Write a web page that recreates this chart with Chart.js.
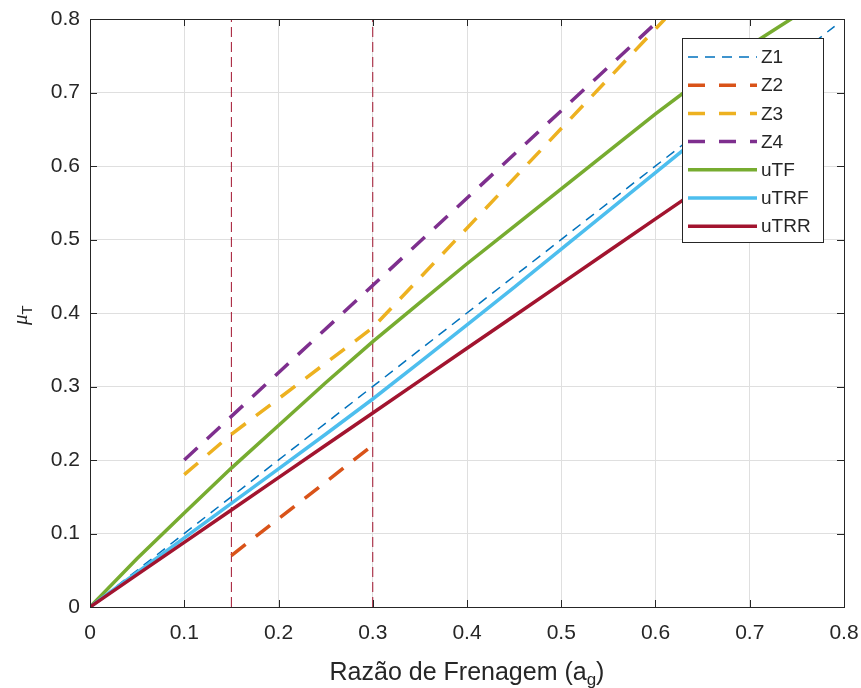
<!DOCTYPE html>
<html>
<head>
<meta charset="utf-8">
<script src="https://cdn.jsdelivr.net/npm/chart.js@4.4.0/dist/chart.umd.min.js"></script>
<style>
  body { margin: 0; background: #fff; }
  canvas { display: block; }
</style>
</head>
<body>
<canvas id="myChart" width="861" height="688"></canvas>
<script>
// values
const tickValues = [0, 0.1, 0.2, 0.3, 0.4, 0.5, 0.6, 0.7, 0.8];
const tickLabels = ["0", "0.1", "0.2", "0.3", "0.4", "0.5", "0.6", "0.7", "0.8"];

const z1X = [0, 0.79];
const z1Y = [0, 0.79];
const z2X = [0.15, 0.3];
const z2Y = [0.07, 0.22];
const z3X = [0.1, 0.15, 0.3, 0.61];
const z3Y = [0.18, 0.235, 0.38, 0.8];
const z4X = [0.1, 0.605];
const z4Y = [0.2, 0.8];

const uX = [0, 0.05, 0.1, 0.15, 0.2, 0.25, 0.3, 0.35, 0.4, 0.45, 0.5, 0.55, 0.6, 0.65, 0.7, 0.75];
const uTF = [0, 0.066, 0.128, 0.189, 0.247, 0.305, 0.361, 0.414, 0.467, 0.518, 0.569, 0.62, 0.671, 0.719, 0.764, 0.805];
const uTRF = [0, 0.047, 0.094, 0.141, 0.188, 0.235, 0.283, 0.333, 0.384, 0.435, 0.487, 0.539, 0.591, 0.643, 0.695];
const uTRR = [0, 0.044, 0.088, 0.132, 0.176, 0.22, 0.264, 0.308, 0.352, 0.396, 0.44, 0.484, 0.528, 0.572, 0.616];

const zoneLimits = [0.15, 0.3];

const FONT = "'Liberation Sans', Arial, sans-serif";
const AXIS_COLOR = "#262626";

function toPoints(xs, ys) {
  return ys.map((y, i) => ({ x: xs[i], y: y }));
}

const series = [
  { label: "Z1", x: z1X, y: z1Y, color: "#0072BD", width: 1.5, dash: [10, 7] },
  { label: "Z2", x: z2X, y: z2Y, color: "#D95319", width: 3.5, dash: [18, 13] },
  { label: "Z3", x: z3X, y: z3Y, color: "#EDB120", width: 3.5, dash: [18, 13] },
  { label: "Z4", x: z4X, y: z4Y, color: "#7E2F8E", width: 3.5, dash: [18, 13] },
  { label: "uTF", x: uX, y: uTF, color: "#77AC30", width: 3.5, dash: [] },
  { label: "uTRF", x: uX, y: uTRF, color: "#4DBEEE", width: 3.5, dash: [] },
  { label: "uTRR", x: uX, y: uTRR, color: "#A2142F", width: 3.5, dash: [] },
];

const datasets = [];
zoneLimits.forEach((xv) => {
  datasets.push({
    label: "zone " + xv,
    data: [{ x: xv, y: 0 }, { x: xv, y: 0.8 }],
    borderColor: "#A2142F",
    borderWidth: 1,
    borderDash: [10, 5],
    order: 20,
  });
});
series.forEach((s, i) => {
  datasets.push({
    label: s.label,
    data: toPoints(s.x, s.y),
    borderColor: s.color,
    borderWidth: s.width,
    borderDash: s.dash,
    order: 10 - i, // later series on top, like the original plot
  });
});

// box around the plot and little inward ticks on all sides
const boxPlugin = {
  id: "box",
  afterDatasetsDraw(chart) {
    const ctx = chart.ctx;
    const a = chart.chartArea;
    const xs = chart.scales.x;
    const ys = chart.scales.y;
    ctx.save();
    ctx.strokeStyle = AXIS_COLOR;
    ctx.lineWidth = 1;
    ctx.beginPath();
    tickValues.forEach((v) => {
      const px = Math.round(xs.getPixelForValue(v)) + 0.5;
      ctx.moveTo(px, a.bottom);
      ctx.lineTo(px, a.bottom - 7);
      ctx.moveTo(px, a.top);
      ctx.lineTo(px, a.top + 7);
      const py = Math.round(ys.getPixelForValue(v)) + 0.5;
      ctx.moveTo(a.left, py);
      ctx.lineTo(a.left + 7, py);
      ctx.moveTo(a.right, py);
      ctx.lineTo(a.right - 7, py);
    });
    ctx.stroke();
    ctx.strokeRect(Math.round(a.left) + 0.5, Math.round(a.top) + 0.5,
      Math.round(a.right - a.left), Math.round(a.bottom - a.top));
    ctx.restore();
  },
};

// legend box in the upper right corner
const legendPlugin = {
  id: "boxLegend",
  afterDraw(chart) {
    const ctx = chart.ctx;
    const left = 682, top = 38, w = 141, h = 204;
    ctx.save();
    ctx.fillStyle = "#fff";
    ctx.fillRect(left, top, w, h);
    ctx.strokeStyle = AXIS_COLOR;
    ctx.lineWidth = 1;
    ctx.strokeRect(left + 0.5, top + 0.5, w, h);
    ctx.font = "19px " + FONT;
    ctx.textBaseline = "middle";
    ctx.fillStyle = AXIS_COLOR;
    series.forEach((s, i) => {
      const y = 57 + i * 28.2;
      ctx.beginPath();
      ctx.strokeStyle = s.color;
      ctx.lineWidth = s.width;
      ctx.setLineDash(s.label === "Z1" ? [10, 7] : s.dash.length ? [17, 14] : []);
      ctx.moveTo(688, y);
      ctx.lineTo(757, y);
      ctx.stroke();
      ctx.setLineDash([]);
      ctx.fillText(s.label, 761, y + 1);
    });
    ctx.restore();
  },
};

// axis titles with subscripts
const titlePlugin = {
  id: "axisTitles",
  afterDraw(chart) {
    const ctx = chart.ctx;
    const a = chart.chartArea;
    ctx.save();
    ctx.fillStyle = AXIS_COLOR;
    ctx.textBaseline = "alphabetic";
    // x title: Razão de Frenagem (a_g)
    const mainFont = "25px " + FONT;
    const subFont = "17px " + FONT;
    ctx.font = mainFont;
    const w1 = ctx.measureText("Razão de Frenagem (a").width;
    const w3 = ctx.measureText(")").width;
    ctx.font = subFont;
    const w2 = ctx.measureText("g").width;
    let x = (a.left + a.right) / 2 - (w1 + w2 + w3) / 2;
    const base = 680;
    ctx.font = mainFont;
    ctx.fillText("Razão de Frenagem (a", x, base);
    x += w1;
    ctx.font = subFont;
    ctx.fillText("g", x, base + 5);
    x += w2;
    ctx.font = mainFont;
    ctx.fillText(")", x, base);

    // y title: mu_T, rotated (tex style italic mu)
    ctx.translate(27, (a.top + a.bottom) / 2 + 12);
    ctx.rotate(-Math.PI / 2);
    ctx.font = "italic 21px 'Liberation Serif', 'DejaVu Serif', serif";
    ctx.fillText("μ", 0, 0);
    const wm = ctx.measureText("μ").width;
    ctx.font = "15px " + FONT;
    ctx.fillText("T", wm, 5);
    ctx.restore();
  },
};

function tickCallback(value) {
  const idx = tickValues.findIndex((t) => Math.abs(t - value) < 1e-6);
  return idx >= 0 ? tickLabels[idx] : "";
}

function makeChart() {
  const target = document.querySelector("#myChart");
  const config = {
    type: "scatter",
    data: { datasets: datasets },
    options: {
      responsive: false,
      animation: false,
      devicePixelRatio: 1,
      showLine: true,
      elements: {
        point: { radius: 0, hoverRadius: 0 },
        line: { tension: 0, borderCapStyle: "butt" },
      },
      layout: {
        autoPadding: false,
        padding: { top: 19, right: 17, left: 0, bottom: 0 },
      },
      plugins: {
        legend: { display: false },
        tooltip: { enabled: false },
      },
      scales: {
        x: {
          type: "linear",
          min: 0,
          max: 0.8,
          afterFit: (scale) => {
            scale.height = 81;
            // no extra room for the end labels, the padding above is enough
            scale.paddingLeft = 0;
            scale.paddingRight = 0;
          },
          afterBuildTicks: (scale) => { scale.ticks = tickValues.map((v) => ({ value: v })); },
          grid: { color: "#dfdfdf", drawTicks: false },
          border: { display: false },
          ticks: {
            callback: tickCallback,
            padding: 14,
            color: AXIS_COLOR,
            font: { family: FONT, size: 21 },
            maxRotation: 0,
          },
        },
        y: {
          type: "linear",
          min: 0,
          max: 0.8,
          afterFit: (scale) => {
            scale.width = 90;
            scale.paddingTop = 0;
            scale.paddingBottom = 0;
          },
          afterBuildTicks: (scale) => { scale.ticks = tickValues.map((v) => ({ value: v })); },
          grid: { color: "#dfdfdf", drawTicks: false },
          border: { display: false },
          ticks: {
            callback: tickCallback,
            padding: 10,
            color: AXIS_COLOR,
            font: { family: FONT, size: 21 },
          },
        },
      },
    },
    plugins: [boxPlugin, legendPlugin, titlePlugin],
  };
  return new Chart(target, config);
}

document.addEventListener("DOMContentLoaded", () => makeChart());
</script>
</body>
</html>
